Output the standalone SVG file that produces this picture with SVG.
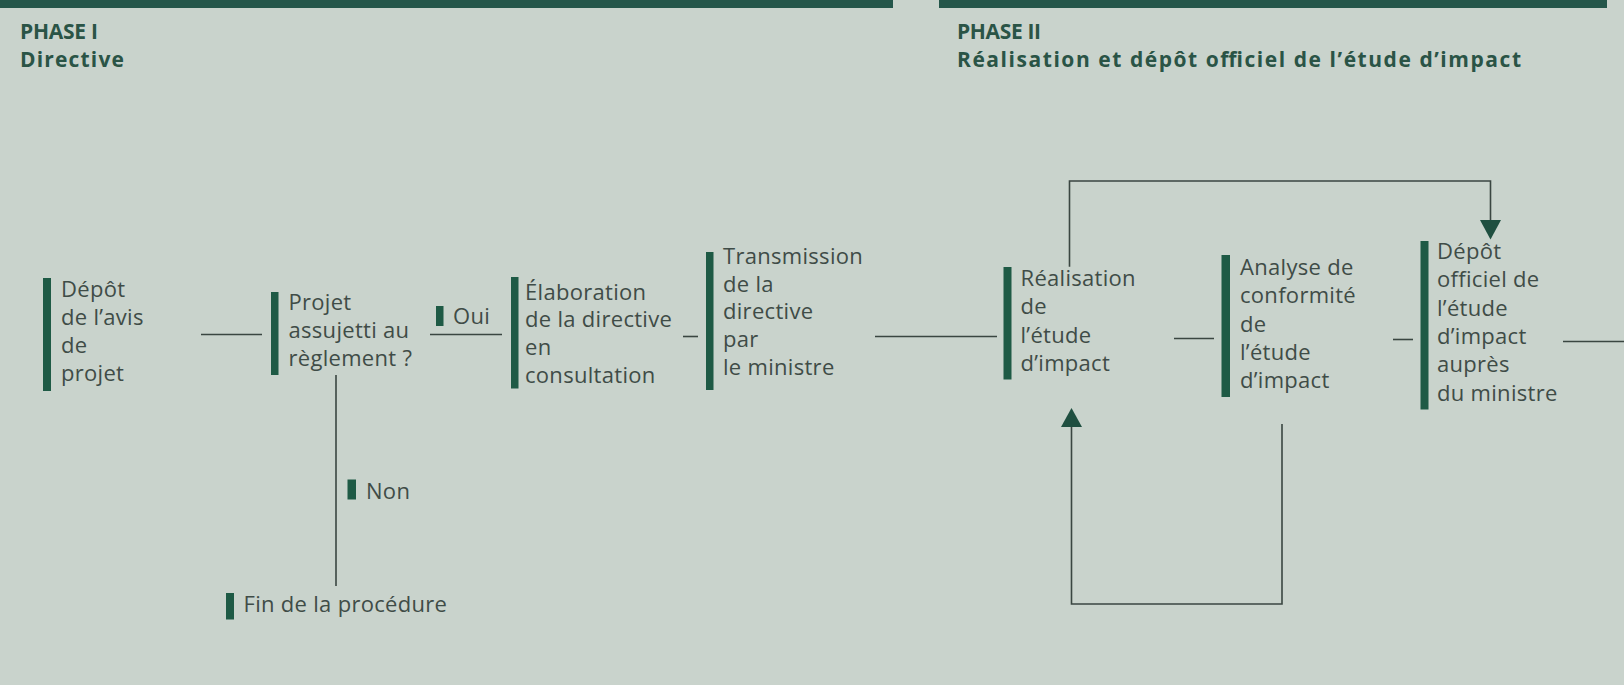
<svg xmlns="http://www.w3.org/2000/svg" width="1624" height="685" viewBox="0 0 1624 685">
<defs>
<style>
.bg{fill:#c9d3cc}
.hbar{fill:#24564a}
.bar{fill:#1e5a45}
.hd{font-family:"Open Sans","Liberation Sans",sans-serif;font-weight:bold;font-size:21px;fill:#2a5446}
.t{font-family:"Open Sans","Liberation Sans",sans-serif;font-size:22px;fill:#3f4c47;letter-spacing:0.3px}
.ln{stroke:#3a4641;stroke-width:1.6;fill:none}
.ah{fill:#1f4f40}
</style>
</defs>
<rect class="bg" x="0" y="0" width="1624" height="685"/>
<rect class="hbar" x="0" y="0" width="893" height="8"/>
<rect class="hbar" x="939" y="0" width="668" height="8"/>
<g id="header1">
<text class="hd" x="20" y="39" textLength="78">PHASE I</text>
<text class="hd" x="20" y="67" textLength="104">Directive</text>
</g>
<g id="header2">
<text class="hd" x="957" y="39" textLength="84">PHASE II</text>
<text class="hd" x="957" y="67" textLength="564">Réalisation et dépôt officiel de l’étude d’impact</text>
</g>
<g id="connectors">
<line class="ln" x1="201" y1="334.5" x2="262" y2="334.5"/>
<line class="ln" x1="430" y1="334.5" x2="502" y2="334.5"/>
<line class="ln" x1="336" y1="375" x2="336" y2="586"/>
<line class="ln" x1="683" y1="336.5" x2="698" y2="336.5"/>
<line class="ln" x1="875" y1="336.5" x2="997" y2="336.5"/>
<line class="ln" x1="1174" y1="338.5" x2="1214" y2="338.5"/>
<line class="ln" x1="1393" y1="339.5" x2="1413" y2="339.5"/>
<line class="ln" x1="1563" y1="341.5" x2="1624" y2="341.5"/>
<polyline class="ln" points="1069.5,266.7 1069.5,181 1490.5,181 1490.5,222"/>
<polygon class="ah" points="1480,220 1501,220 1490.5,239.5"/>
<polyline class="ln" points="1282,424 1282,604 1071.5,604 1071.5,425"/>
<polygon class="ah" points="1061,427 1082,427 1071.5,408"/>
</g>
<g id="n-depot-avis">
<rect class="bar" x="43" y="278" width="8" height="113"/>
<text class="t"><tspan x="61" y="297">Dépôt</tspan><tspan x="61" y="325">de l’avis</tspan><tspan x="61" y="353">de</tspan><tspan x="61" y="381">projet</tspan></text>
</g>
<g id="n-projet">
<rect class="bar" x="271" y="292" width="7.5" height="83"/>
<text class="t"><tspan x="288.5" y="310">Projet</tspan><tspan x="288.5" y="338">assujetti au</tspan><tspan x="288.5" y="366">règlement ?</tspan></text>
</g>
<g id="n-oui">
<rect class="bar" x="436" y="306" width="7.5" height="20"/>
<text class="t" x="453" y="324">Oui</text>
</g>
<g id="n-non">
<rect class="bar" x="347.5" y="479.5" width="8.5" height="20"/>
<text class="t" x="366" y="498.5">Non</text>
</g>
<g id="n-fin">
<rect class="bar" x="226" y="593" width="8" height="26.5"/>
<text class="t" x="243.5" y="612">Fin de la procédure</text>
</g>
<g id="n-elaboration">
<rect class="bar" x="511" y="277" width="7.5" height="111.5"/>
<text class="t"><tspan x="525" y="300">Élaboration</tspan><tspan x="525" y="327">de la directive</tspan><tspan x="525" y="355">en</tspan><tspan x="525" y="383">consultation</tspan></text>
</g>
<g id="n-transmission">
<rect class="bar" x="706" y="252" width="7.5" height="138"/>
<text class="t"><tspan x="723" y="264">Transmission</tspan><tspan x="723" y="291.7">de la</tspan><tspan x="723" y="319">directive</tspan><tspan x="723" y="347">par</tspan><tspan x="723" y="375">le ministre</tspan></text>
</g>
<g id="n-realisation">
<rect class="bar" x="1003.5" y="267" width="8" height="112.5"/>
<text class="t"><tspan x="1020.5" y="285.7">Réalisation</tspan><tspan x="1020.5" y="314">de</tspan><tspan x="1020.5" y="342.7">l’étude</tspan><tspan x="1020.5" y="370.7">d’impact</tspan></text>
</g>
<g id="n-analyse">
<rect class="bar" x="1221.5" y="255" width="8.5" height="142"/>
<text class="t"><tspan x="1240" y="275">Analyse de</tspan><tspan x="1240" y="303">conformité</tspan><tspan x="1240" y="331.7">de</tspan><tspan x="1240" y="360">l’étude</tspan><tspan x="1240" y="388.3">d’impact</tspan></text>
</g>
<g id="n-depot-officiel">
<rect class="bar" x="1420.5" y="241" width="8" height="168.5"/>
<text class="t"><tspan x="1437" y="259.3">Dépôt</tspan><tspan x="1437" y="287.3">officiel de</tspan><tspan x="1437" y="316">l’étude</tspan><tspan x="1437" y="344">d’impact</tspan><tspan x="1437" y="372">auprès</tspan><tspan x="1437" y="400.7">du ministre</tspan></text>
</g>
</svg>
